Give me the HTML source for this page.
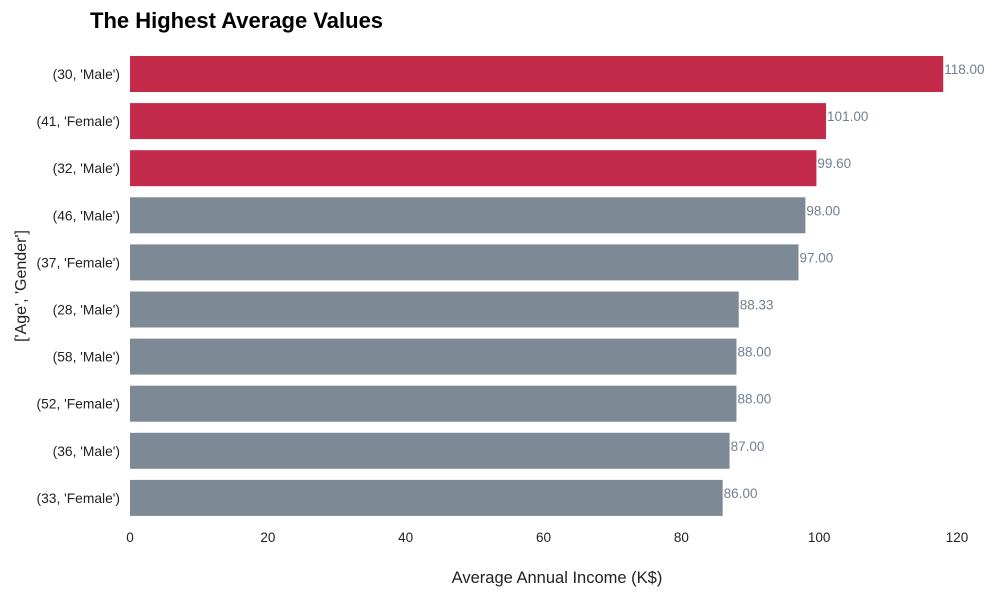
<!DOCTYPE html>
<html><head><meta charset="utf-8"><style>
body{margin:0;background:#fff;font-family:"Liberation Sans",Arial,sans-serif;}
svg text{font-family:"Liberation Sans",Arial,sans-serif;}
</style></head><body>
<svg id="chart" width="1000" height="600">
<text x="90" y="28" font-size="22" font-weight="bold" fill="#000">The Highest Average Values</text>
<text transform="translate(26,286) rotate(-90)" text-anchor="middle" font-size="16" fill="#222">['Age', 'Gender']</text>
<text x="557" y="583" text-anchor="middle" font-size="16.5" fill="#222">Average Annual Income (K$)</text>
<g id="bars"></g>
</svg>
<script>
const categories=["(30, 'Male')","(41, 'Female')","(32, 'Male')","(46, 'Male')","(37, 'Female')","(28, 'Male')","(58, 'Male')","(52, 'Female')","(36, 'Male')","(33, 'Female')"];
const values=[118,101,99.6,98,97,88.33,88,88,87,86];
const xTicks=[0,20,40,60,80,100,120];
const highlightCount=3;
const NS="http://www.w3.org/2000/svg";
const g=document.getElementById('bars');
const x0=130,x1=957,xmax=120;
const xs=v=>x0+(v/xmax)*(x1-x0);
const rowTop=56,rowStep=47.1,barH=36;
function mk(t,a){const e=document.createElementNS(NS,t);for(const k in a)e.setAttribute(k,a[k]);g.appendChild(e);return e;}
categories.forEach((c,i)=>{
 const y=rowTop+i*rowStep;
 const r=mk('rect',{x:x0,y:y,width:xs(values[i])-x0,height:barH,fill:i<highlightCount?'#c42a4a':'#7d8a96'});
 
 
 const l=mk('text',{x:120,y:y+barH/2+5,'text-anchor':'end','font-size':13.8,fill:'#222'});
 l.textContent=c;
 
 
 const v=mk('text',{x:xs(values[i])+1,y:y+barH/2,'font-size':13.5,fill:'#708090'});
 v.textContent=values[i].toFixed(2);
 
 
});
xTicks.forEach(t=>{
 const e=mk('text',{x:xs(t),y:542,'text-anchor':'middle','font-size':13.5,fill:'#222'});
 e.textContent=t;
 
 
});
</script>
</body></html>
